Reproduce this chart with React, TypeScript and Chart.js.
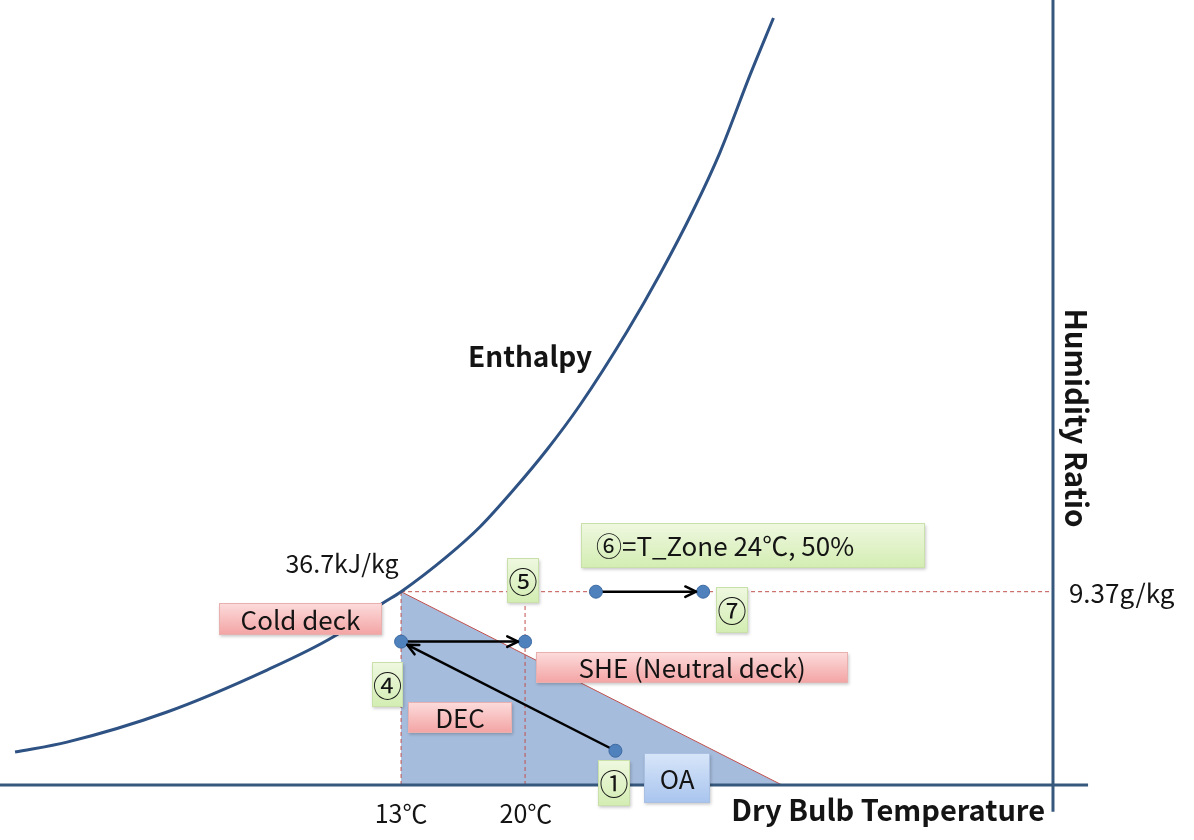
import React, { useEffect, useRef } from "react";
import { Chart, registerables } from "chart.js";

Chart.register(...registerables);

// ---- Scale ranges (°C and g/kg) ----
const X_MIN = -9.64;
const X_MAX = 57.76;
const Y_MIN = -2.666;
const Y_MAX = 38.05;

// ---- Saturation (enthalpy) curve ----
const satTemp = [-8.79, -5.86, -0.21, 5.43, 9.16, 11.98, 13.0, 15.58, 17.46, 19.34, 21.22, 23.1, 25.74, 27.62, 29.5, 31.01, 32.7, 34.02];
const satHum = [1.6, 2.08, 3.54, 5.57, 7.17, 8.82, 9.37, 11.07, 12.52, 14.3, 16.24, 18.42, 21.96, 24.77, 27.87, 30.68, 34.42, 37.18];

// ---- DEC region (constant enthalpy 36.7 kJ/kg) ----
const decTemp = [13, 34.5];
const decHum = [9.37, 0];

// ---- Reference values ----
const refHumidity = 9.37; // g/kg
const coldDeckTemp = 13; // °C
const neutralDeckTemp = 20; // °C
const humidityAxisTemp = 49.8;
const tempAxisEnd = 51.78;
const humidityAxisBottom = -1.3;

// ---- State points ----
const stateNames = ["①", "④", "⑤", "⑥", "⑦"];
const stateTemp = [25.1, 13, 20, 24, 30.05];
const stateHum = [1.66, 6.95, 6.95, 9.37, 9.37];

// ---- Processes (arrows) as state indices ----
const processFrom = [0, 1, 3];
const processTo = [1, 2, 4];

// ---- Annotation text boxes (anchored in data units, size in px) ----
type Box = { text: string; x: number; y: number; w: number; h: number; kind: "pink" | "green" | "blue"; align?: "left" | "center"; size: number };
const boxes: Box[] = [
  { text: "Cold deck", x: 7.32, y: 8.05, w: 163, h: 32, kind: "pink", size: 26 },
  { text: "④", x: 12.235, y: 4.87, w: 31, h: 45, kind: "green", size: 29 },
  { text: "DEC", x: 16.33, y: 3.27, w: 104, h: 31, kind: "pink", size: 26 },
  { text: "⑤", x: 19.88, y: 9.91, w: 32, h: 45, kind: "green", size: 29 },
  { text: "SHE (Neutral deck)", x: 29.43, y: 5.7, w: 312, h: 31, kind: "pink", size: 26 },
  { text: "⑥=T_Zone 24℃, 50%", x: 32.87, y: 11.61, w: 344, h: 45, kind: "green", align: "left", size: 26 },
  { text: "⑦", x: 31.68, y: 8.48, w: 32, h: 46, kind: "green", size: 29 },
  { text: "①", x: 25.02, y: 0.1, w: 32, h: 46, kind: "green", size: 29 },
  { text: "OA", x: 28.58, y: 0.34, w: 66, h: 50, kind: "blue", size: 26 },
];

type Label = { text: string; x: number; y: number; bold?: boolean; align: "left" | "center" | "right"; rotate?: boolean; size: number };
const labels: Label[] = [
  { text: "Enthalpy", x: 20.28, y: 20.8, bold: true, align: "center", size: 28 },
  { text: "36.7kJ/kg", x: 9.67, y: 10.76, align: "center", size: 25 },
  { text: "9.37g/kg", x: 50.7, y: 9.31, align: "left", size: 26 },
  { text: "13℃", x: 13.0, y: -1.36, align: "center", size: 25 },
  { text: "20℃", x: 20.05, y: -1.36, align: "center", size: 25 },
  { text: "Dry Bulb Temperature", x: 49.35, y: -1.21, bold: true, align: "right", size: 29 },
  { text: "Humidity Ratio", x: 51.1, y: 17.79, bold: true, align: "center", rotate: true, size: 29.5 },
];

const FONT = '"Noto Sans CJK KR", "Noto Sans", sans-serif';

const palettes = {
  pink: { top: "#FDDCDC", bottom: "#F3A3A3", border: "#E9B0B0" },
  green: { top: "#EFF8E0", bottom: "#D3EDB2", border: "#C9E0AA" },
  blue: { top: "#D8E6F9", bottom: "#A8C4EE", border: "#A9C0E2" },
};

const overlayPlugin = {
  id: "psychroOverlay",
  afterDatasetsDraw(chart: any) {
    const ctx: CanvasRenderingContext2D = chart.ctx;
    const xs = chart.scales.x;
    const ys = chart.scales.y;
    const px = (v: number) => xs.getPixelForValue(v);
    const py = (v: number) => ys.getPixelForValue(v);

    // arrowheads
    ctx.save();
    ctx.strokeStyle = "#000";
    ctx.lineWidth = 2.5;
    ctx.lineCap = "round";
    ctx.lineJoin = "round";
    for (let i = 0; i < processFrom.length; i++) {
      const a = processFrom[i];
      const b = processTo[i];
      const x1 = px(stateTemp[a]), y1 = py(stateHum[a]);
      const x2 = px(stateTemp[b]), y2 = py(stateHum[b]);
      const ang = Math.atan2(y2 - y1, x2 - x1);
      const tx = x2 - Math.cos(ang) * 7;
      const ty = y2 - Math.sin(ang) * 7;
      const len = 12;
      const spread = 0.45;
      ctx.beginPath();
      ctx.moveTo(tx - Math.cos(ang - spread) * len, ty - Math.sin(ang - spread) * len);
      ctx.lineTo(tx, ty);
      ctx.lineTo(tx - Math.cos(ang + spread) * len, ty - Math.sin(ang + spread) * len);
      ctx.stroke();
    }
    ctx.restore();

    // boxes
    for (const b of boxes) {
      const pal = palettes[b.kind];
      const cx = px(b.x), cy = py(b.y);
      const left = Math.round(cx - b.w / 2), top = Math.round(cy - b.h / 2);
      ctx.save();
      ctx.shadowColor = "rgba(0,0,0,0.22)";
      ctx.shadowBlur = 3;
      ctx.shadowOffsetX = 1;
      ctx.shadowOffsetY = 1.5;
      const g = ctx.createLinearGradient(0, top, 0, top + b.h);
      g.addColorStop(0, pal.top);
      g.addColorStop(1, pal.bottom);
      ctx.fillStyle = g;
      ctx.fillRect(left, top, b.w, b.h);
      ctx.shadowColor = "transparent";
      ctx.strokeStyle = pal.border;
      ctx.lineWidth = 1;
      ctx.strokeRect(left + 0.5, top + 0.5, b.w - 1, b.h - 1);
      ctx.fillStyle = "#141414";
      ctx.font = `${b.size}px ${FONT}`;
      ctx.textBaseline = "middle";
      if (b.align === "left") {
        ctx.textAlign = "left";
        ctx.fillText(b.text, left + 15, cy + 1);
      } else {
        ctx.textAlign = "center";
        ctx.fillText(b.text, cx, cy + 1);
      }
      ctx.restore();
    }

    // labels
    for (const l of labels) {
      ctx.save();
      ctx.fillStyle = "#141414";
      ctx.font = `${l.bold ? "bold " : ""}${l.size}px ${FONT}`;
      ctx.textBaseline = "middle";
      ctx.textAlign = l.align;
      const x = px(l.x), y = py(l.y);
      if (l.rotate) {
        ctx.translate(x, y);
        ctx.rotate(Math.PI / 2);
        ctx.fillText(l.text, 0, 0);
      } else {
        ctx.fillText(l.text, x, y);
      }
      ctx.restore();
    }
  },
};

export default function App() {
  const ref = useRef<HTMLCanvasElement | null>(null);

  useEffect(() => {
    if (!ref.current) return;
    const pts = (xsArr: number[], ysArr: number[]) => xsArr.map((x, i) => ({ x, y: ysArr[i] }));
    const red = "#C0504D";
    const axisColor = "#36587C";

    const processDatasets = processFrom.map((a, i) => ({
      type: "line" as const,
      data: [
        { x: stateTemp[a], y: stateHum[a] },
        { x: stateTemp[processTo[i]], y: stateHum[processTo[i]] },
      ],
      borderColor: "#000",
      borderWidth: 2.5,
      pointRadius: 0,
      fill: false,
      order: 1,
    }));

    const chart = new Chart(ref.current, {
      type: "line",
      data: {
        datasets: [
          {
            type: "scatter",
            label: stateNames.join(" "),
            data: pts(stateTemp, stateHum),
            backgroundColor: "#4F81BD",
            borderColor: "#3D6AA2",
            borderWidth: 1,
            pointRadius: 6.5,
            order: 0,
          } as any,
          ...processDatasets,
          {
            data: pts(satTemp, satHum),
            borderColor: "#2E5283",
            borderWidth: 3,
            pointRadius: 0,
            cubicInterpolationMode: "monotone",
            fill: false,
            order: 2,
          },
          {
            data: [
              { x: X_MIN, y: 0 },
              { x: tempAxisEnd, y: 0 },
            ],
            borderColor: axisColor,
            borderWidth: 3,
            pointRadius: 0,
            fill: false,
            order: 3,
          },
          {
            data: [
              { x: humidityAxisTemp, y: humidityAxisBottom },
              { x: humidityAxisTemp, y: Y_MAX },
            ],
            borderColor: axisColor,
            borderWidth: 3,
            pointRadius: 0,
            fill: false,
            order: 3,
          },
          {
            data: [
              { x: coldDeckTemp, y: refHumidity },
              { x: humidityAxisTemp, y: refHumidity },
            ],
            borderColor: red,
            borderWidth: 1,
            borderDash: [4, 3],
            pointRadius: 0,
            fill: false,
            order: 4,
          },
          {
            data: [
              { x: coldDeckTemp, y: 0 },
              { x: coldDeckTemp, y: refHumidity },
            ],
            borderColor: red,
            borderWidth: 1,
            borderDash: [4, 3],
            pointRadius: 0,
            fill: false,
            order: 4,
          },
          {
            data: [
              { x: neutralDeckTemp, y: 0 },
              { x: neutralDeckTemp, y: refHumidity },
            ],
            borderColor: red,
            borderWidth: 1,
            borderDash: [4, 3],
            pointRadius: 0,
            fill: false,
            order: 4,
          },
          {
            data: pts(decTemp, decHum),
            borderColor: red,
            borderWidth: 1,
            backgroundColor: "#A6BCDC",
            pointRadius: 0,
            fill: "origin",
            order: 5,
          },
        ] as any,
      },
      options: {
        animation: false,
        responsive: false,
        maintainAspectRatio: false,
        layout: { padding: 0, autoPadding: false },
        events: [],
        plugins: { legend: { display: false }, tooltip: { enabled: false }, title: { display: false } },
        scales: {
          x: { type: "linear", display: false, min: X_MIN, max: X_MAX },
          y: { type: "linear", display: false, min: Y_MIN, max: Y_MAX },
        },
      },
      plugins: [overlayPlugin],
    });
    return () => chart.destroy();
  }, []);

  return (
    <div style={{ position: "absolute", left: 0, top: 0, width: 1194, height: 840, background: "#fff" }}>
      <canvas ref={ref} width={1194} height={840} style={{ display: "block" }} />
    </div>
  );
}
